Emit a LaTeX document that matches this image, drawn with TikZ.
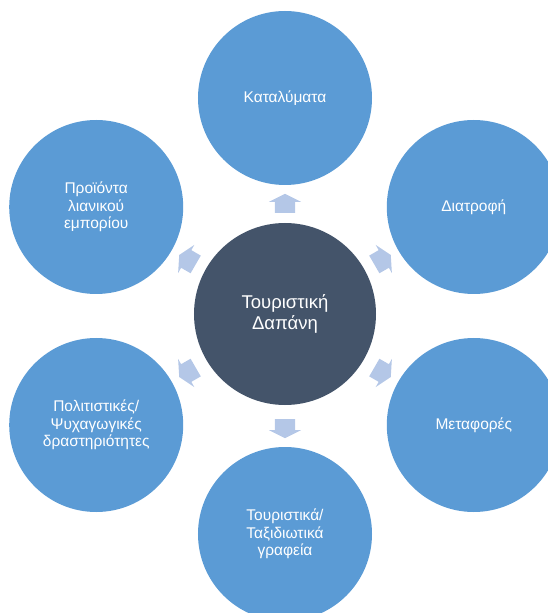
\documentclass[tikz,border=0pt]{standalone}
\usepackage{fontspec}
\setmainfont{Liberation Sans}
\usetikzlibrary{shapes.arrows,calc}
\definecolor{itemblue}{HTML}{5B9BD5}
\definecolor{hubslate}{HTML}{44546A}
\definecolor{arrowblue}{HTML}{B4C7E7}

\begin{document}
\begin{tikzpicture}[
    x=1pt, y=1pt,
    hub/.style={circle, fill=hubslate, minimum size=182pt, inner sep=0pt, align=center, text=white, font=\fontsize{18.5}{21}\selectfont},
    item/.style={circle, fill=itemblue, minimum size=174pt, inner sep=0pt, align=center, text=white, font=\fontsize{15.5}{17.5}\selectfont},
    pointer/.style={single arrow, fill=arrowblue, minimum height=19pt, minimum width=32pt, single arrow head extend=6pt, single arrow head indent=0pt, single arrow tip angle=127, inner xsep=0pt, inner ysep=10pt}
]
    \useasboundingbox (-285,-297) rectangle (262,316);

    % --- κέντρο ---
    \node[hub] (spend) at (0,2) {Τουριστική\\Δαπάνη};

    % --- οι έξι κατηγορίες γύρω του ---
    \node[item] (lodging) at (90:218) {Καταλύματα};
    \node[item] (food) at (30:218) {Διατροφή};
    \node[item] (transport) at (-30:218) {Μεταφορές};
    \node[item] (agencies) at (-90:218) {Τουριστικά/\\Ταξιδιωτικά\\γραφεία};
    \node[item] (culture) at (-150:218) {Πολιτιστικές/\\Ψυχαγωγικές\\δραστηριότητες};
    \node[item] (retail) at (150:218) {Προϊόντα\\λιανικού\\εμπορίου};

    % --- βέλη στη μέση της απόστασης ---
    \node[pointer, rotate=90] (toLodging) at ($(0,0)!0.505!(lodging)$) {};
    \node[pointer, rotate=30] (toFood) at ($(0,0)!0.505!(food)$) {};
    \node[pointer, rotate=-30] (toTransport) at ($(0,0)!0.505!(transport)$) {};
    \node[pointer, rotate=-90] (toAgencies) at ($(0,0)!0.505!(agencies)$) {};
    \node[pointer, rotate=-150] (toCulture) at ($(0,0)!0.505!(culture)$) {};
    \node[pointer, rotate=150] (toRetail) at ($(0,0)!0.505!(retail)$) {};

\end{tikzpicture}
\end{document}
